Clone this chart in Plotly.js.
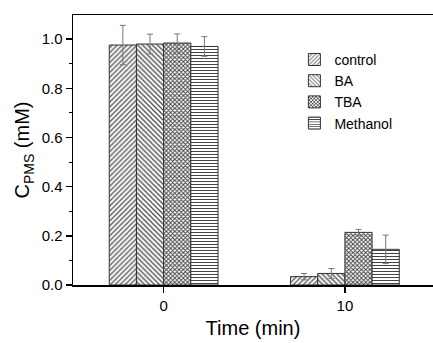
<!DOCTYPE html>
<html>
<head>
<meta charset="utf-8">
<script src="https://cdn.plot.ly/plotly-3.0.1.min.js"></script>
<style>html,body{margin:0;padding:0;background:#fff;}#chart{width:433px;height:343px;}</style>
</head>
<body>
<div id="chart"></div>
<script>
const times = [0, 10];
const seriesNames = ["control", "BA", "TBA", "Methanol"];
const controlVals = [0.976, 0.034];
const controlErr = [0.08, 0.013];
const baVals = [0.980, 0.047];
const baErr = [0.04, 0.02];
const tbaVals = [0.984, 0.214];
const tbaErr = [0.037, 0.012];
const methanolVals = [0.970, 0.145];
const methanolErr = [0.04, 0.058];
const tickVals = [0, 10];
const tickText = ["0", "10"];

const patterns = ["/", "\\", "x", "-"];
const patSizes = [3.5, 3.5, 3, 3];
const patSolidity = [0.35, 0.35, 0.55, 0.35];
const allVals = [controlVals, baVals, tbaVals, methanolVals];
const allErr = [controlErr, baErr, tbaErr, methanolErr];

const traces = seriesNames.map((name, i) => ({
  type: "bar",
  name: name,
  x: times,
  y: allVals[i],
  width: 1.5,
  marker: {
    color: "white",
    line: {color: "#333", width: 1},
    pattern: {shape: patterns[i], fgcolor: "#444", bgcolor: "white", size: patSizes[i], solidity: patSolidity[i]}
  },
  error_y: {type: "data", array: allErr[i], visible: true, color: "#777", thickness: 1, width: 3}
}));

const font = "Liberation Sans, Arial, sans-serif";
const layout = {
  width: 433, height: 343,
  margin: {l: 73, r: 0, t: 15, b: 58},
  paper_bgcolor: "white", plot_bgcolor: "white",
  barmode: "group", bargap: 0.4, bargroupgap: 0,
  showlegend: true,
  legend: {x: 0.615, y: 0.893, xanchor: "left", yanchor: "top", font: {family: font, size: 14, color: "#000"}, bgcolor: "rgba(0,0,0,0)", tracegroupgap: 0},
  xaxis: {
    range: [-5, 14.86], tickvals: tickVals, ticktext: tickText,
    showline: true, linecolor: "#000", linewidth: 1.5, mirror: true,
    ticks: "outside", ticklen: 6, tickcolor: "#000", tickwidth: 1.5,
    showgrid: false, zeroline: false,
    tickfont: {family: font, size: 15, color: "#000"},
    title: {text: "Time (min)", font: {family: font, size: 20, color: "#000"}, standoff: 8}
  },
  yaxis: {
    range: [0, 1.098], dtick: 0.2, tick0: 0, tickformat: ".1f",
    showline: true, linecolor: "#000", linewidth: 1.5, mirror: false,
    ticks: "outside", ticklen: 6, tickcolor: "#000", tickwidth: 1.5,
    minor: {dtick: 0.1, ticks: "outside", ticklen: 3, tickcolor: "#000", tickwidth: 1},
    showgrid: false, zeroline: false,
    tickfont: {family: font, size: 15, color: "#000"},
    title: {text: "C<sub>PMS</sub> (mM)", font: {family: font, size: 20, color: "#000"}, standoff: 6}
  }
};

Plotly.newPlot("chart", traces, layout, {displayModeBar: false, staticPlot: true});
</script>
</body>
</html>
